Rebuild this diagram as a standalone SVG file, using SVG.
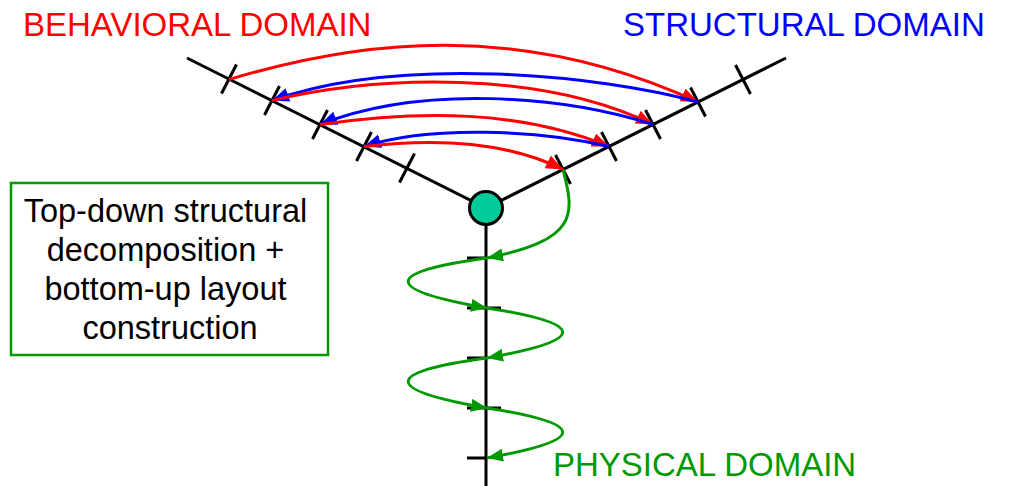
<svg xmlns="http://www.w3.org/2000/svg" width="1009" height="486" viewBox="0 0 1009 486">
<style>
.ax{stroke:#000;stroke-width:3;fill:none;stroke-linecap:butt}
.r{stroke:#FF0000;stroke-width:3;fill:none}
.b{stroke:#0000FF;stroke-width:3;fill:none}
.g{stroke:#009900;stroke-width:3;fill:none}
.t{font-family:"Liberation Sans",Arial,sans-serif}
</style>
<defs>
<marker id="ar" markerUnits="userSpaceOnUse" markerWidth="18" markerHeight="14" refX="17" refY="7" orient="auto"><path d="M0,0 L17,7 L0,14 z" fill="#FF0000"/></marker>
<marker id="ab" markerUnits="userSpaceOnUse" markerWidth="18" markerHeight="14" refX="17" refY="7" orient="auto"><path d="M0,0 L17,7 L0,14 z" fill="#0000FF"/></marker>
<marker id="ag" markerUnits="userSpaceOnUse" markerWidth="18" markerHeight="14" refX="16" refY="6.5" orient="auto"><path d="M0,0 L16,6.5 L0,13 z" fill="#009900"/></marker>
</defs>
<g id="axes">
<path class="ax" d="M187,58 L486,208 L786,58 M486,208 L486,486"/>
<path class="ax" d="M221.5,93.5 L236.5,64.5 M264.5,115 L279.5,86 M312.5,139 L327.5,110 M356.5,161 L371.5,132 M399.5,182.5 L414.5,153.5"/>
<path class="ax" d="M555.5,155 L570.5,184 M601.5,132 L616.5,161 M645.5,110 L660.5,139 M690.5,87.5 L705.5,116.5 M735.5,65 L750.5,94"/>
<path class="ax" d="M467,258 L486,258 M467,308 L501,308 M467,358 L486,358 M467,408 L501,408 M467,458 L486,458"/>
</g>
<g id="connectors">
<path class="r" marker-end="url(#ar)" d="M229,79.5 C360,40 520,20 698,102"/>
<path class="b" marker-end="url(#ab)" d="M698,102 C600,75 400,55 272,100.5"/>
<path class="r" marker-end="url(#ar)" d="M272,100.5 C380,75 540,70 653,124.5"/>
<path class="b" marker-end="url(#ab)" d="M653,124.5 C560,95 420,85 320,124.5"/>
<path class="r" marker-end="url(#ar)" d="M320,124.5 C420,110 520,110 609,146.5"/>
<path class="b" marker-end="url(#ab)" d="M609,146.5 C540,130 430,125 364,146.5"/>
<path class="r" marker-end="url(#ar)" d="M364,146.5 C420,140 500,138 563,169.5"/>
<path class="g" marker-end="url(#ag)" d="M563,169.5 C575,215 578,240 487,258"/>
<path class="g" marker-end="url(#ag)" d="M487,258 C382,272 382,290 487,308"/>
<path class="g" marker-end="url(#ag)" d="M487,308 C588,324 588,340 487,358"/>
<path class="g" marker-end="url(#ag)" d="M487,358 C382,372 382,390 487,408"/>
<path class="g" marker-end="url(#ag)" d="M487,408 C588,424 588,440 487,458"/>
</g>
<g id="origin">
<circle cx="486" cy="208" r="16.5" fill="#00CC99" stroke="#000" stroke-width="3"/>
</g>
<g id="behavioral">
<text class="t" x="23" y="36" font-size="33" fill="#FF0000">BEHAVIORAL DOMAIN</text>
</g>
<g id="structural">
<text class="t" x="623" y="36" font-size="33" fill="#0000FF">STRUCTURAL DOMAIN</text>
</g>
<g id="physical">
<text class="t" x="553" y="476" font-size="33" fill="#009900">PHYSICAL DOMAIN</text>
</g>
<g id="note">
<rect x="11" y="183" width="317" height="172" fill="#fff" stroke="#009900" stroke-width="2.5"/>
<text class="t" font-size="32.5" fill="#000" text-anchor="middle">
<tspan x="170" y="222">Top-down structural</tspan>
<tspan x="170" y="261">decomposition +</tspan>
<tspan x="170" y="300">bottom-up layout</tspan>
<tspan x="170" y="339">construction</tspan>
</text>
</g>
</svg>
